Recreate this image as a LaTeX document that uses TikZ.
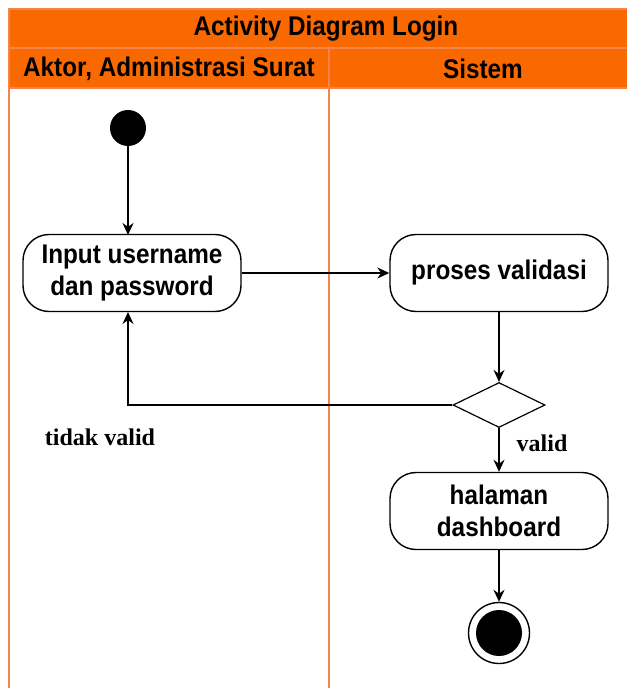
\documentclass[tikz,border=0pt]{standalone}
\usepackage{fontspec}
\setmainfont{Liberation Serif}
\newfontfamily\lanefont[FakeStretch=0.9]{Liberation Sans}
\usetikzlibrary{shapes.geometric,arrows.meta}
\definecolor{poolfill}{HTML}{FA6800}
\definecolor{poolline}{HTML}{F5844A}
\begin{document}
\begin{tikzpicture}[x=1pt,y=-1pt,
  act/.style={draw,line width=1.4pt,rounded corners=26pt,minimum width=218pt,minimum height=77pt,
    align=center,font=\lanefont\bfseries\fontsize{27}{32}\selectfont,inner sep=0pt},
  flow/.style={draw,line width=1.6pt,-{Stealth[length=12pt,width=11pt]}},
  hdr/.style={font=\lanefont\bfseries\fontsize{27}{30}\selectfont},
  guard/.style={font=\bfseries\fontsize{24}{26}\selectfont}]
\useasboundingbox (0,0) rectangle (627,688);
\clip (0,0) rectangle (627,688);
% pool and lanes
\fill[poolfill] (9,9) rectangle (627,88);
\draw[poolline,line width=1.3pt] (9,700) -- (9,9) -- (627,9);
\draw[poolline,line width=1.3pt] (9,48) -- (627,48);
\draw[poolline,line width=1.3pt] (9,88) -- (627,88);
\draw[poolline,line width=1.3pt] (329,48) -- (329,700);
\node[hdr] (title) at (326,29) {Activity Diagram Login};
\node[hdr] (lane1) at (169,69) {Aktor, Administrasi Surat};
\node[hdr] (lane2) at (483,69) {Sistem};
% nodes
\node[circle,fill=black,minimum size=36pt,inner sep=0pt] (start) at (128,128) {};
\node[act] (input) at (132,273) {Input username\\dan password};
\node[act] (proses) at (499,273) {proses validasi};
\node[diamond,draw,line width=1.2pt,minimum width=92pt,minimum height=45pt,inner sep=0pt,aspect=2] (dec) at (499,405) {};
\node[act] (dash) at (499,511) {halaman\\dashboard};
\node[circle,draw,line width=1.4pt,minimum size=61pt,inner sep=0pt] (end) at (499,633) {};
\node[circle,fill=black,minimum size=46pt,inner sep=0pt] at (end) {};
% connectors
\draw[flow] (start) -- (128,235);
\draw[flow] (input.east) -- (proses.west);
\draw[flow] (proses) -- (dec.north);
\draw[flow] (dec.west) -- (128,405) -- (128,312);
\draw[flow] (dec.south) -- (dash.north);
\draw[flow] (dash) -- (end.north);
% guard labels
\node[guard] (tv) at (100,437) {tidak valid};
\node[guard] (v) at (542,443) {valid};
\end{tikzpicture}
\end{document}
